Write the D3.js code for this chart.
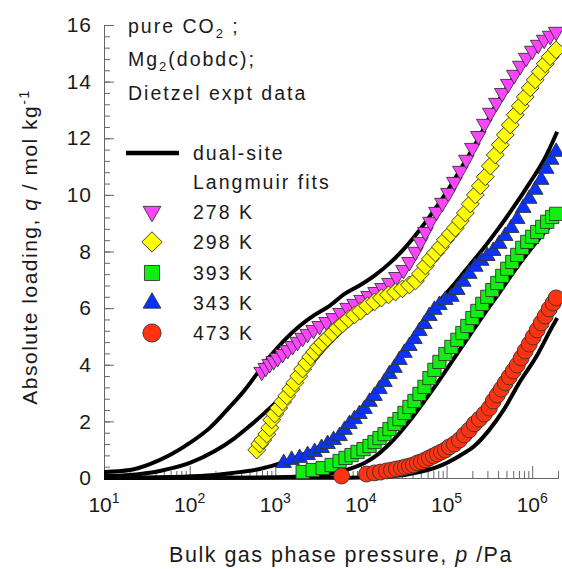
<!DOCTYPE html>
<html>
<head>
<meta charset="utf-8">
<script src="https://cdn.jsdelivr.net/npm/d3@7"></script>
<style>
  body { margin: 0; background: #fff; }
  svg { display: block; }
  text { font-family: "Liberation Sans", Arial, Helvetica, sans-serif; fill: #1a1a1a; }
</style>
</head>
<body>
<svg id="chart" width="562" height="569"></svg>
<script>
// ---- data: pressure p [Pa], absolute loading q [mol/kg] ----
const xTickExponents = [1, 2, 3, 4, 5, 6];
const yTickValues = [0, 2, 4, 6, 8, 10, 12, 14, 16];
const seriesLabels = ["278 K", "298 K", "393 K", "343 K", "473 K"];

const data278 = [[694,3.75],[773,3.89],[861,4.03],[958,4.13],[1067,4.24],[1219,4.38],[1395,4.52],[1595,4.66],[1824,4.81],[2086,4.95],[2386,5.09],[2803,5.23],[3292,5.37],[3972,5.51],[4794,5.65],[5784,5.83],[6980,6.01],[8420,6.15],[10160,6.29],[12260,6.43],[14800,6.57],[17850,6.71],[21540,6.89],[25990,7.10],[31370,7.35],[36850,7.63],[43290,7.99],[49490,8.34],[56600,8.69],[64740,9.05],[76060,9.40],[89350,9.72],[105000,10.07],[123300,10.46],[144800,10.85],[170100,11.24],[200000,11.66],[234800,12.08],[275800,12.51],[324000,12.90],[380600,13.25],[447100,13.60],[525300,13.92],[617000,14.24],[725000,14.56],[851000,14.84],[1000000,15.09],[1175000,15.30],[1380000,15.48],[1621000,15.62],[1904000,15.76]];

const data298 = [[607,0.99],[658,1.20],[713,1.34],[794,1.55],[861,1.77],[908,2.05],[984,2.26],[1095,2.47],[1219,2.69],[1358,2.90],[1512,3.14],[1684,3.36],[1874,3.60],[2086,3.85],[2323,4.06],[2586,4.28],[2879,4.45],[3205,4.63],[3568,4.77],[4080,4.95],[4667,5.12],[5337,5.30],[6104,5.44],[7170,5.62],[8420,5.76],[9893,5.90],[11940,6.08],[14410,6.22],[17390,6.36],[20980,6.47],[25310,6.57],[30530,6.68],[36850,6.82],[43290,6.96],[49490,7.21],[56600,7.49],[64740,7.74],[74050,7.95],[84700,8.16],[96830,8.41],[110700,8.62],[126600,8.83],[144800,9.08],[165600,9.36],[189400,9.68],[216600,10.00],[247700,10.32],[283300,10.64],[324000,11.02],[370500,11.41],[423800,11.77],[484500,12.12],[554100,12.47],[633800,12.83],[725000,13.14],[829000,13.46],[948000,13.78],[1084000,14.06],[1240000,14.35],[1418000,14.63],[1621000,14.88],[1904000,15.12]];

const data393 = [[2086,0.21],[2729,0.28],[3568,0.35],[4543,0.46],[5632,0.60],[6613,0.71],[7770,0.81],[9130,0.92],[10720,1.02],[12600,1.13],[14410,1.27],[16480,1.41],[18840,1.55],[21540,1.73],[24640,1.91],[28180,2.08],[32230,2.30],[36850,2.51],[42140,2.72],[48200,2.97],[55120,3.22],[63030,3.53],[72080,3.82],[82440,4.10],[96830,4.38],[113800,4.63],[133600,4.88],[152800,5.12],[174700,5.37],[200000,5.65],[228600,5.90],[261400,6.15],[298900,6.40],[341800,6.64],[390900,6.89],[447100,7.14],[511300,7.39],[584700,7.63],[668700,7.88],[764700,8.13],[874500,8.34],[1000000,8.52],[1144000,8.69],[1308000,8.87],[1496000,9.05],[1711000,9.22],[1904000,9.33]];

const data343 = [[1253,0.53],[1553,0.64],[1924,0.71],[2386,0.81],[2879,0.92],[3474,1.06],[4080,1.20],[4794,1.34],[5632,1.48],[6442,1.70],[7365,1.91],[8420,2.08],[9631,2.26],[11020,2.44],[12600,2.69],[14410,2.90],[16480,3.14],[18840,3.39],[21540,3.67],[24640,3.89],[28180,4.17],[32230,4.42],[36850,4.66],[42140,4.91],[48200,5.19],[55120,5.44],[63030,5.72],[72080,5.94],[82440,6.11],[96830,6.29],[113800,6.40],[133600,6.64],[157000,6.93],[184400,7.21],[216600,7.46],[254400,7.67],[298900,7.84],[351200,8.02],[412500,8.27],[484500,8.55],[569100,8.83],[668700,9.15],[785500,9.54],[923000,9.86],[1084000,10.18],[1273000,10.53],[1456000,10.92],[1665000,11.24],[1904000,11.52]];

const data473 = [[5939,0.07],[11630,0.14],[14410,0.18],[16920,0.21],[19880,0.25],[22730,0.28],[25990,0.32],[29730,0.35],[33100,0.39],[36850,0.42],[41030,0.46],[45680,0.53],[50850,0.57],[56600,0.64],[63030,0.71],[70180,0.78],[78130,0.85],[86980,0.92],[96830,0.99],[107800,1.10],[123300,1.20],[141000,1.34],[161300,1.52],[184400,1.70],[210900,1.91],[241200,2.08],[275800,2.26],[315400,2.47],[351200,2.72],[390900,2.93],[435300,3.14],[484500,3.36],[539500,3.57],[600500,3.78],[668700,3.99],[744200,4.24],[829000,4.49],[923000,4.73],[1027000,4.98],[1144000,5.23],[1273000,5.48],[1418000,5.72],[1579000,5.97],[1757000,6.18],[1904000,6.36]];

// dual-site Langmuir fit curves, sampled
const fit278 = [[10,0.21],[20.1,0.28],[34.4,0.49],[58.8,0.81],[100.5,1.24],[172,1.77],[294,2.51],[440,3.11],[607,3.67],[861,4.28],[1287,4.88],[1924,5.37],[2879,5.76],[4305,6.08],[6442,6.50],[9631,6.80],[14410,7.15],[21540,7.58],[32230,8.11],[48200,8.75],[72080,9.47],[107800,10.25],[161300,11.13],[241200,12.05],[360800,13.07],[539500,13.92],[807000,14.66],[1207000,15.23],[1904000,15.69]];
const fit298 = [[10,0.07],[20.1,0.11],[44.9,0.25],[100.5,0.53],[196.7,0.95],[336,1.41],[503,1.84],[752,2.30],[1125,2.79],[1684,3.36],[2518,3.96],[3766,4.58],[5632,5.12],[8420,5.58],[12600,5.93],[18840,6.25],[28180,6.55],[42140,6.90],[63030,7.53],[94280,8.27],[141000,9.05],[210900,9.93],[315400,10.95],[471700,12.01],[704700,13.00],[1055000,13.96],[1579000,14.77],[1904000,15.09]];
const fit343 = [[10,0],[34.4,0.02],[131.5,0.07],[319,0.18],[658,0.32],[1287,0.57],[2201,0.85],[3292,1.10],[4925,1.41],[7365,1.84],[11020,2.44],[16480,3.18],[24640,3.96],[36850,4.77],[55120,5.58],[82440,6.25],[123300,6.85],[184400,7.50],[275800,8.15],[412500,8.85],[617000,9.60],[923000,10.40],[1380000,11.25],[1956000,12.23]];
const fit393 = [[10,0],[503,0.01],[1924,0.05],[4305,0.14],[7365,0.32],[11020,0.53],[16480,0.88],[24640,1.38],[36850,2.01],[55120,2.72],[82440,3.46],[123300,4.24],[184400,5.02],[275800,5.80],[412500,6.54],[617000,7.31],[923000,8.02],[1380000,8.66],[1956000,9.19]];
const fit473 = [[10,0],[7365,0.01],[21540,0.05],[48200,0.21],[82440,0.42],[141000,0.78],[210900,1.13],[315400,1.70],[471700,2.44],[704700,3.36],[1113000,4.28],[1711000,5.34],[1956000,5.65]];

// ---- appearance ----
const markerStyle = {
  "278 K": { fill: "#ff44ff", shape: "triDown", size: 105 },
  "298 K": { fill: "#ffff00", shape: "diamond", size: 160 },
  "393 K": { fill: "#11ee11", shape: "square",  size: 175 },
  "343 K": { fill: "#0a32ff", shape: "triUp",   size: 105 },
  "473 K": { fill: "#ff3311", shape: "circle",  size: 200 }
};
const seriesData = { "278 K": data278, "298 K": data298, "393 K": data393, "343 K": data343, "473 K": data473 };
const fits = [fit278, fit298, fit343, fit393, fit473];
const drawOrder = ["278 K", "298 K", "343 K", "393 K", "473 K"];

const svg = d3.select("#chart");
const x = d3.scaleLog().domain([10, 2e6]).range([104, 558]);
const y = d3.scaleLinear().domain([0, 16]).range([478, 25]);

function symbolFor(shape, size) {
  const type = { triDown: d3.symbolTriangle, triUp: d3.symbolTriangle, diamond: d3.symbolSquare,
                 square: d3.symbolSquare, circle: d3.symbolCircle }[shape];
  return d3.symbol().type(type).size(size)();
}
function rotFor(shape) {
  return shape === "triDown" ? " rotate(180)" : shape === "diamond" ? " rotate(45)" : "";
}

// ---- axes ----
const axisColor = "#666";
// minor ticks on x
const xMinor = [];
for (let e = 1; e <= 6; e++) for (let m = 2; m <= 9; m++) { const v = m * Math.pow(10, e); if (v <= 2e6) xMinor.push(v); }
svg.append("g").attr("transform", "translate(0,478)")
  .call(d3.axisBottom(x).tickValues(xMinor).tickSizeInner(-7).tickSizeOuter(0).tickFormat(""))
  .call(g => g.selectAll("path,line").attr("stroke", axisColor));
svg.append("g").attr("transform", "translate(0,478)")
  .call(d3.axisBottom(x).tickValues(xTickExponents.map(e => Math.pow(10, e))).tickSizeInner(-12).tickSizeOuter(0).tickFormat(""))
  .call(g => g.selectAll("path,line").attr("stroke", axisColor));

// y axis: minor every 0.4, major every 2
svg.append("g").attr("transform", "translate(104,0)")
  .call(d3.axisLeft(y).tickValues(d3.range(0, 16.001, 0.4)).tickSizeInner(-6).tickSizeOuter(0).tickFormat(""))
  .call(g => g.selectAll("path,line").attr("stroke", axisColor));
svg.append("g").attr("transform", "translate(104,0)")
  .call(d3.axisLeft(y).tickValues(yTickValues).tickSizeInner(-10).tickSizeOuter(0).tickPadding(12).tickFormat(d3.format("d")))
  .call(g => g.selectAll("path,line").attr("stroke", axisColor))
  .call(g => g.selectAll("text").attr("font-size", 21).attr("letter-spacing", 1)
              .attr("font-family", null).attr("fill", "#1a1a1a"));

// x tick labels: 10^n
const xl = svg.append("g");
xTickExponents.forEach(e => {
  const t = xl.append("text").attr("x", x(Math.pow(10, e))).attr("y", 512)
    .attr("text-anchor", "middle").attr("font-size", 21);
  t.append("tspan").text("10");
  t.append("tspan").attr("dy", -9).attr("font-size", 14).text(e);
});

// axis titles
const xt = svg.append("text").attr("x", 341).attr("y", 562).attr("text-anchor", "middle")
  .attr("font-size", 21.5).attr("letter-spacing", 1.5);
xt.append("tspan").text("Bulk gas phase pressure, ");
xt.append("tspan").attr("font-style", "italic").text("p");
xt.append("tspan").text(" /Pa");

const yt = svg.append("text").attr("transform", "translate(37,247) rotate(-90)")
  .attr("text-anchor", "middle").attr("font-size", 21).attr("letter-spacing", 1.5);
yt.append("tspan").text("Absolute loading, ");
yt.append("tspan").attr("font-style", "italic").text("q");
yt.append("tspan").text(" / mol kg");
yt.append("tspan").attr("dy", -8).attr("font-size", 14).text("-1");

// ---- fit curves ----
const line = d3.line().x(d => x(d[0])).y(d => y(d[1])).curve(d3.curveMonotoneX);
svg.append("g").selectAll("path").data(fits).join("path")
  .attr("d", line).attr("fill", "none").attr("stroke", "#000").attr("stroke-width", 4)
  .attr("stroke-linejoin", "round");

// ---- data markers ----
drawOrder.forEach(lbl => {
  const st = markerStyle[lbl];
  const path = symbolFor(st.shape, st.size);
  svg.append("g").selectAll("path").data(seriesData[lbl]).join("path")
    .attr("d", path)
    .attr("transform", d => `translate(${x(d[0])},${y(d[1])})${rotFor(st.shape)}`)
    .attr("fill", st.fill).attr("stroke", "#333").attr("stroke-width", 0.9);
});

// ---- legend & annotation ----
const note = svg.append("g").attr("font-size", 19.5).attr("letter-spacing", 2);
const n1 = note.append("text").attr("x", 128).attr("y", 33);
n1.append("tspan").text("pure CO");
n1.append("tspan").attr("dy", 5).attr("font-size", 13).text("2");
n1.append("tspan").attr("dy", -5).text(" ;");
const n2 = note.append("text").attr("x", 128).attr("y", 66);
n2.append("tspan").text("Mg");
n2.append("tspan").attr("dy", 5).attr("font-size", 13).text("2");
n2.append("tspan").attr("dy", -5).text("(dobdc);");
note.append("text").attr("x", 128).attr("y", 100).text("Dietzel expt data");

svg.append("line").attr("x1", 126).attr("x2", 179).attr("y1", 153).attr("y2", 153)
  .attr("stroke", "#000").attr("stroke-width", 4.5);
note.append("text").attr("x", 193).attr("y", 160).text("dual-site");
note.append("text").attr("x", 193).attr("y", 189).text("Langmuir fits");

const legendRows = [218.5, 249, 280, 310, 340];
seriesLabels.forEach((lbl, i) => {
  const st = markerStyle[lbl];
  const cy = legendRows[i] - 7;
  svg.append("path").attr("d", symbolFor(st.shape, st.size * 1.3))
    .attr("transform", `translate(152,${cy})${rotFor(st.shape)}`)
    .attr("fill", st.fill).attr("stroke", "#333").attr("stroke-width", 0.9);
  note.append("text").attr("x", 193).attr("y", legendRows[i]).text(lbl);
});
</script>
</body>
</html>
